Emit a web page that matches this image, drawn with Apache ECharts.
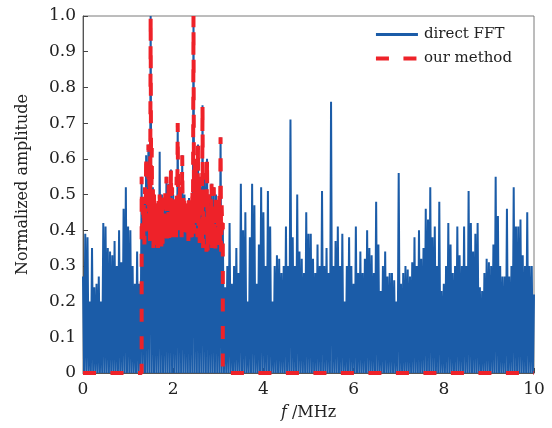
<!DOCTYPE html>
<html>
<head>
<meta charset="utf-8">
<script src="https://cdn.jsdelivr.net/npm/echarts@6/dist/echarts.min.js"></script>
<style>
html,body{margin:0;padding:0;background:#fff;}
#chart{width:552px;height:428px;}
</style>
</head>
<body>
<div id="chart"></div>
<script>
// Sample spacing (MHz) of the read-off amplitude envelope of the direct FFT
const freqStep = 0.05;

// direct FFT: local peak amplitudes at f = 0, 0.05, ..., 10 MHz
const directFFT = [
  0.27,0.39,0.38,0.20,0.35,0.24,0.25,0.27,0.20,0.42,
  0.41,0.35,0.34,0.33,0.37,0.30,0.40,0.31,0.46,0.52,
  0.41,0.40,0.30,0.25,0.34,0.25,0.55,0.48,0.61,0.64,
  1.00,0.52,0.48,0.45,0.62,0.50,0.46,0.55,0.53,0.57,
  0.50,0.48,0.70,0.52,0.61,0.50,0.45,0.49,0.47,1.00,
  0.58,0.64,0.52,0.75,0.56,0.60,0.50,0.53,0.52,0.50,
  0.48,0.66,0.42,0.24,0.30,0.42,0.25,0.30,0.35,0.28,
  0.53,0.40,0.45,0.20,0.38,0.53,0.47,0.25,0.36,0.52,
  0.45,0.30,0.51,0.41,0.20,0.30,0.33,0.32,0.28,0.30,
  0.41,0.30,0.71,0.38,0.30,0.50,0.34,0.32,0.28,0.45,
  0.39,0.39,0.32,0.28,0.36,0.30,0.51,0.30,0.35,0.28,
  0.76,0.30,0.37,0.41,0.30,0.39,0.20,0.30,0.38,0.30,
  0.25,0.41,0.28,0.34,0.28,0.32,0.40,0.35,0.33,0.28,
  0.48,0.36,0.23,0.30,0.34,0.27,0.28,0.28,0.26,0.20,
  0.56,0.25,0.28,0.30,0.29,0.27,0.31,0.38,0.30,0.40,
  0.32,0.35,0.46,0.43,0.52,0.38,0.41,0.30,0.48,0.23,
  0.25,0.30,0.42,0.36,0.28,0.30,0.41,0.33,0.30,0.41,
  0.30,0.51,0.42,0.34,0.39,0.42,0.24,0.23,0.28,0.32,
  0.31,0.30,0.36,0.55,0.44,0.30,0.27,0.27,0.46,0.27,
  0.30,0.52,0.41,0.41,0.43,0.33,0.30,0.45,0.30,0.30,
  0.22
];

// our method: nonzero only inside the band [bandStart, bandEnd]
const bandStart = 1.30;
const bandEnd = 3.10;
const bandStep = 0.025;
// peak amplitudes at f = 1.300, 1.325, ..., 3.100 MHz
const methodPeaks = [
  0.55,0.47,0.48,0.52,0.61,0.50,0.64,0.58,1.00,0.63,
  0.52,0.50,0.48,0.46,0.45,0.49,0.50,0.47,0.50,0.44,
  0.46,0.52,0.55,0.50,0.53,0.48,0.57,0.52,0.50,0.47,
  0.48,0.55,0.70,0.50,0.52,0.48,0.61,0.49,0.50,0.46,
  0.45,0.48,0.49,0.44,0.47,0.52,1.00,0.60,0.58,0.50,
  0.64,0.53,0.52,0.55,0.75,0.50,0.56,0.49,0.60,0.48,
  0.50,0.46,0.53,0.47,0.52,0.46,0.50,0.45,0.48,0.50,
  0.66,0.47,0.42
];
// trough amplitudes between consecutive peaks
const methodTroughs = [
  0.40,0.38,0.36,0.39,0.38,0.42,0.40,0.37,
  0.40,0.36,0.35,0.38,0.34,0.36,0.35,0.37,
  0.36,0.35,0.35,0.38,0.38,0.36,0.37,0.39,
  0.36,0.40,0.40,0.38,0.39,0.41,0.38,0.40,
  0.40,0.39,0.41,0.38,0.39,0.40,0.40,0.38,
  0.38,0.37,0.40,0.38,0.37,0.39,0.39,0.42,
  0.42,0.38,0.40,0.36,0.36,0.35,0.35,0.37,
  0.37,0.34,0.34,0.36,0.36,0.35,0.35,0.37,
  0.38,0.34,0.34,0.36,0.35,0.36,0.34,0.40
];

const xTicks = [0, 2, 4, 6, 8, 10];

// build series data
const blueData = [];
directFFT.forEach((v, i) => {
  const f = i * freqStep;
  blueData.push([f, v]);
  if (i < directFFT.length - 1) blueData.push([f + freqStep / 2, 0]);
});

const redData = [[xTicks[0], 0], [bandStart, 0]];
methodPeaks.forEach((v, i) => {
  const f = bandStart + i * bandStep;
  redData.push([f, v]);
  if (i < methodTroughs.length) redData.push([f + bandStep / 2, methodTroughs[i]]);
});
redData.push([bandEnd, 0], [xTicks[xTicks.length - 1], 0]);

const BLUE = '#1b5ca8';
const RED = '#ee2229';
const FONT = 'DejaVu Serif';
const chart = echarts.init(document.getElementById('chart'), null, {renderer: 'canvas'});
chart.setOption({
  animation: false,
  backgroundColor: '#fff',
  grid: {left: 83, right: 18, top: 16, bottom: 55, show: true, borderColor: '#7a7a7a', borderWidth: 1, backgroundColor: 'transparent'},
  legend: {
    orient: 'vertical', right: 35, top: 22,
    itemWidth: 42, itemHeight: 4, itemGap: 9,
    textStyle: {fontFamily: FONT, fontSize: 15, color: '#222', padding: [0, 0, 0, 1]},
    data: [
      {name: 'direct FFT', icon: 'path://M0,0H42V3H0Z', itemStyle: {color: BLUE}},
      {name: 'our method', icon: 'path://M0,0H13V4H0Z M27.5,0H40.5V4H27.5Z M42,0H42V4Z', itemStyle: {color: RED}}
    ]
  },
  xAxis: {
    type: 'value', min: xTicks[0], max: xTicks[xTicks.length - 1], interval: 2,
    name: '{i|f} /MHz', nameLocation: 'middle', nameGap: 32,
    nameTextStyle: {fontFamily: FONT, fontSize: 16, color: '#222',
      rich: {i: {fontFamily: FONT, fontStyle: 'italic', fontSize: 16, color: '#222'}}},
    axisLine: {lineStyle: {color: '#555', width: 1}},
    axisTick: {inside: true, length: 5, lineStyle: {color: '#444'}},
    axisLabel: {fontFamily: FONT, fontSize: 17, color: '#222', margin: 8},
    splitLine: {show: false}
  },
  yAxis: {
    type: 'value', min: 0, max: 1, interval: 0.1,
    name: 'Normalized amplitude', nameLocation: 'middle', nameGap: 52,
    nameTextStyle: {fontFamily: FONT, fontSize: 16, color: '#222', padding: [0, 0, 0, 20]},
    axisLine: {lineStyle: {color: '#555', width: 1}},
    axisTick: {inside: true, length: 5, lineStyle: {color: '#444'}},
    axisLabel: {fontFamily: FONT, fontSize: 17, color: '#222', margin: 7,
      formatter: v => (v === 0 ? '0' : v.toFixed(1))},
    splitLine: {show: false}
  },
  series: [
    {
      name: 'direct FFT', type: 'line', data: blueData, symbol: 'none',
      sampling: null, clip: true,
      lineStyle: {color: BLUE, width: 2},
      itemStyle: {color: BLUE}
    },
    {
      name: 'our method', type: 'line', data: redData, symbol: 'none',
      clip: true,
      lineStyle: {color: RED, width: 4, type: [13, 14.5]},
      itemStyle: {color: RED}
    }
  ]
});
</script>
</body>
</html>
